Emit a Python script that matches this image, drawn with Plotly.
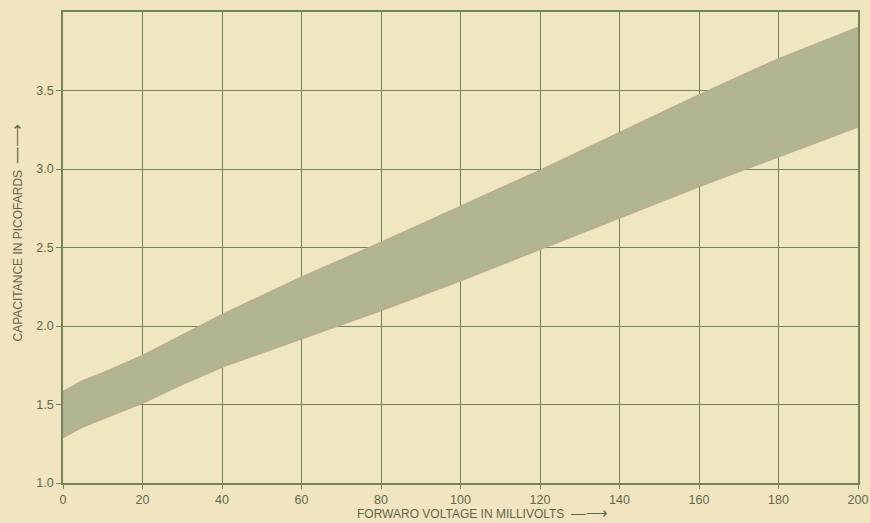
import plotly.graph_objects as go

voltage = [0, 5, 10, 20, 30, 40, 60, 80, 100, 120, 140, 160, 180, 200]
cap_upper = [1.58, 1.65, 1.70, 1.81, 1.94, 2.07, 2.31, 2.53, 2.76, 2.99, 3.23, 3.47, 3.70, 3.90]
cap_lower = [1.29, 1.36, 1.41, 1.51, 1.63, 1.74, 1.92, 2.10, 2.29, 2.49, 2.69, 2.89, 3.08, 3.27]

x_ticks = [0, 20, 40, 60, 80, 100, 120, 140, 160, 180, 200]
y_ticks = [1.0, 1.5, 2.0, 2.5, 3.0, 3.5]
y_tick_labels = ["1.0", "1.5", "2.0", "2.5", "3.0", "3.5"]

x_title = "FORWARO VOLTAGE IN MILLIVOLTS"
y_title = "CAPACITANCE IN PICOFARDS"
arrow = "\u2014\u27f6"

grid_col = "#76825a"
text_col = "#5f6848"
band_col = "#b2b592"
edge_col = "#b9ae92"
paper_col = "#f1e4c0"

fig = go.Figure()
fig.add_trace(go.Scatter(x=voltage, y=cap_lower, mode="lines",
                         line=dict(color=edge_col, width=2, shape="linear"),
                         showlegend=False, hoverinfo="skip"))
fig.add_trace(go.Scatter(x=voltage, y=cap_upper, mode="lines",
                         line=dict(color=edge_col, width=2, shape="linear"),
                         fill="tonexty", fillcolor=band_col,
                         showlegend=False, hoverinfo="skip"))

fig.update_layout(
    width=870, height=523,
    margin=dict(l=63, r=12, t=12, b=40),
    paper_bgcolor=paper_col,
    plot_bgcolor="#eee7c0",
    font=dict(family="Liberation Sans, Arial, sans-serif", color=text_col, size=11),
    xaxis=dict(
        range=[0, 200], tickmode="array", tickvals=x_ticks,
        showgrid=True, gridcolor=grid_col, gridwidth=1.2,
        showline=True, linecolor=grid_col, linewidth=1.5, mirror=True,
        ticks="outside", ticklen=4, tickcolor=grid_col,
        zeroline=False, automargin=False,
        tickfont=dict(size=12.5, color=text_col),
    ),
    yaxis=dict(
        range=[1.0, 4.0], tickmode="array", tickvals=y_ticks, ticktext=y_tick_labels,
        showgrid=True, gridcolor=grid_col, gridwidth=1.2,
        showline=True, linecolor=grid_col, linewidth=1.5, mirror=True,
        ticks="outside", ticklen=5, tickcolor=grid_col,
        zeroline=False, automargin=False,
        tickfont=dict(size=12.5, color=text_col),
    ),
    annotations=[
        dict(text=x_title + "  <span style='font-size:15px'>" + arrow + "</span>",
             xref="paper", yref="paper", x=0.367, y=-0.062,
             xanchor="left", yanchor="middle", showarrow=False,
             font=dict(size=12, color=text_col)),
        dict(text=y_title + "  <span style='font-size:16px'>" + arrow + "</span>",
             xref="paper", yref="paper", x=-0.059, y=0.53, textangle=-90,
             xanchor="center", yanchor="middle", showarrow=False,
             font=dict(size=12, color=text_col)),
    ],
)

fig.write_html(
    "out.html",
    config={"displayModeBar": False},
    post_script="document.body.style.margin='0';document.body.style.background='" + paper_col + "';",
)
